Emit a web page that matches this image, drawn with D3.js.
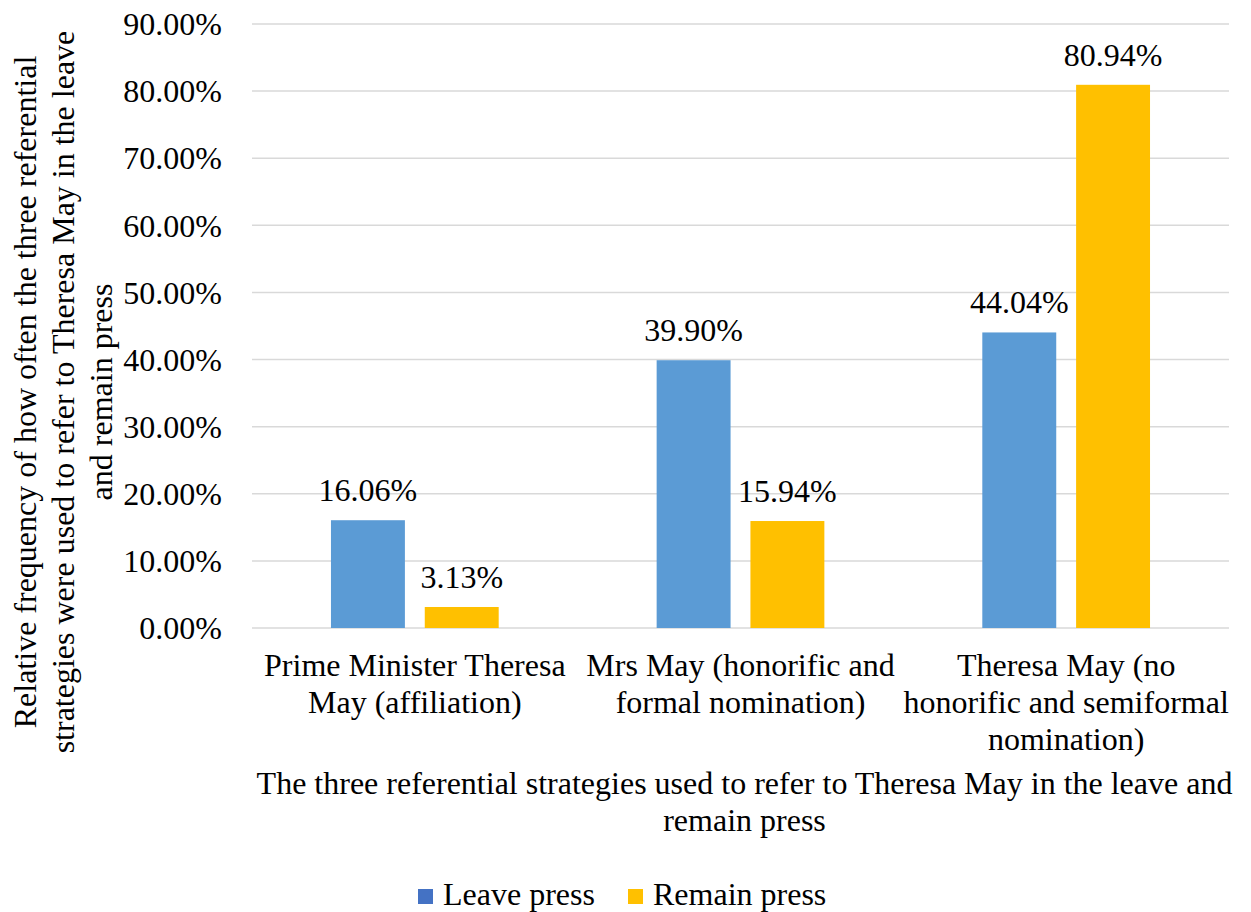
<!DOCTYPE html>
<html>
<head>
<meta charset="utf-8">
<script src="https://cdn.jsdelivr.net/npm/d3@7"></script>
<style>
  html, body { margin: 0; padding: 0; background: #fff; }
</style>
</head>
<body>
<svg id="chart" width="1251" height="912"></svg>
<script>
// Referential strategies (category labels, pre-wrapped into lines)
const categories = [
  ["Prime Minister Theresa", "May (affiliation)"],
  ["Mrs May (honorific and", "formal nomination)"],
  ["Theresa May (no", "honorific and semiformal", "nomination)"]
];
const seriesNames = ["Leave press", "Remain press"];
const leavePress = [16.06, 39.90, 44.04];
const remainPress = [3.13, 15.94, 80.94];
const yTicks = [0, 10, 20, 30, 40, 50, 60, 70, 80, 90];
const yTitle = [
  "Relative frequency of how often the three referential",
  "strategies were used to refer to Theresa May in the leave",
  "and remain press"
];
const xTitle = [
  "The three referential strategies used to refer to Theresa May in the leave and",
  "remain press"
];

const barColors = ["#5B9BD5", "#FFC000"];
const legendColors = ["#4472C4", "#FFC000"];
const fontSize = 32;

const svg = d3.select("#chart");
const plotLeft = 252, plotRight = 1229, plotTop = 24, plotBottom = 628;

const x = d3.scaleBand().domain(d3.range(categories.length)).range([plotLeft, plotRight]);
const y = d3.scaleLinear().domain([0, 90]).range([plotBottom, plotTop]);

const bw = x.bandwidth();
const barW = bw * 0.227;
const barGap = bw * 0.061;
const sub = d3.scaleOrdinal().domain([0, 1]).range([
  bw / 2 - barGap / 2 - barW,
  bw / 2 + barGap / 2
]);

function styleText(sel) {
  sel.style("font-family", "Liberation Serif")
    .attr("font-size", fontSize)
    .attr("fill", "#000");
}

// Gridlines
svg.append("g")
  .selectAll("line")
  .data(yTicks)
  .join("line")
  .attr("x1", plotLeft).attr("x2", plotRight)
  .attr("y1", d => y(d)).attr("y2", d => y(d))
  .attr("stroke", "#d9d9d9")
  .attr("stroke-width", 1.5);

// Y axis tick labels
svg.append("g")
  .selectAll("text")
  .data(yTicks)
  .join("text")
  .call(styleText)
  .attr("x", 222)
  .attr("y", d => y(d))
  .attr("dy", "0.35em")
  .attr("text-anchor", "end")
  .text(d => d.toFixed(2) + "%");

// Bars with value labels
const series = [leavePress, remainPress];
series.forEach((vals, s) => {
  const g = svg.append("g");
  g.selectAll("rect")
    .data(vals)
    .join("rect")
    .attr("x", (d, i) => x(i) + sub(s))
    .attr("y", d => y(d))
    .attr("width", barW)
    .attr("height", d => y(0) - y(d))
    .attr("fill", barColors[s]);
  g.selectAll("text")
    .data(vals)
    .join("text")
    .call(styleText)
    .attr("x", (d, i) => x(i) + sub(s) + barW / 2)
    .attr("y", d => y(d) - 19)
    .attr("text-anchor", "middle")
    .text(d => d.toFixed(2) + "%");
});

// Category labels
const catG = svg.append("g");
categories.forEach((lines, i) => {
  const t = catG.append("text")
    .call(styleText)
    .attr("text-anchor", "middle");
  lines.forEach((ln, j) => {
    t.append("tspan")
      .attr("x", x(i) + bw / 2)
      .attr("y", 676 + j * 37)
      .text(ln);
  });
});

// X axis title
const xt = svg.append("text")
  .call(styleText)
  .attr("text-anchor", "middle");
xTitle.forEach((ln, j) => {
  xt.append("tspan")
    .attr("x", (plotLeft + plotRight) / 2 + 4)
    .attr("y", 794 + j * 37)
    .text(ln);
});

// Y axis title (rotated)
const yt = svg.append("text")
  .call(styleText)
  .attr("transform", "translate(0,392) rotate(-90)")
  .attr("text-anchor", "middle");
yTitle.forEach((ln, j) => {
  yt.append("tspan")
    .attr("x", 0)
    .attr("y", 36 + j * 38)
    .text(ln);
});

// Legend
const legend = svg.append("g");
const legendItems = [
  { name: seriesNames[0], color: legendColors[0], x: 418 },
  { name: seriesNames[1], color: legendColors[1], x: 628 }
];
legendItems.forEach(it => {
  legend.append("rect")
    .attr("x", it.x).attr("y", 889)
    .attr("width", 15).attr("height", 15)
    .attr("fill", it.color);
  legend.append("text")
    .call(styleText)
    .attr("x", it.x + 25).attr("y", 905)
    .text(it.name);
});
</script>
</body>
</html>
